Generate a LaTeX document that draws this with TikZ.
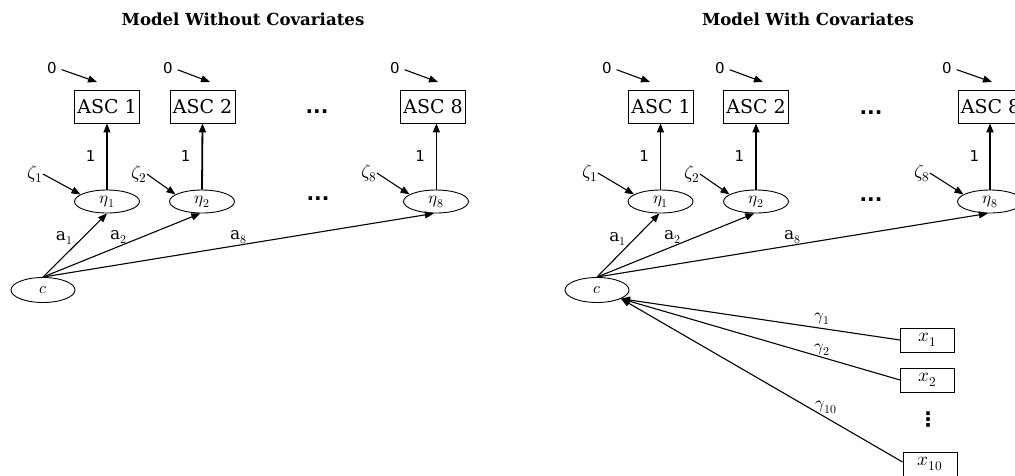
\documentclass[tikz,border=0pt]{standalone}
\usepackage{unicode-math}
\setmainfont{DejaVu Serif}
\setmathfont{Latin Modern Math}
\newfontfamily\labfont{DejaVu Sans}
\usetikzlibrary{arrows.meta,shapes.geometric}
\begin{document}
\begin{tikzpicture}[x=1pt,y=-1pt,
  every node/.style={inner sep=0pt},
  ascbox/.style={draw,line width=0.9pt,minimum width=65pt,minimum height=33pt,font=\fontsize{19}{21}\selectfont},
  latent/.style={draw,ellipse,line width=0.9pt,minimum width=65pt,minimum height=23pt,font=\fontsize{17}{19}\selectfont},
  cnode/.style={draw,ellipse,line width=0.9pt,minimum width=64pt,minimum height=25pt,font=\fontsize{16}{18}\selectfont},
  xbox/.style={draw,line width=0.9pt,minimum width=54pt,minimum height=24pt,font=\fontsize{19}{21}\selectfont},
  num/.style={font=\labfont\fontsize{15}{17}\selectfont},
  glab/.style={font=\fontsize{19}{21}\selectfont},
  elab/.style={font=\fontsize{17}{19}\selectfont},
  arr/.style={-{Triangle[length=9pt,width=7pt]},line width=1.1pt},
  thickarr/.style={arr,line width=1.8pt},
  ttl/.style={font=\bfseries\fontsize{16.6}{19}\selectfont},
  hdots/.style={font=\labfont\bfseries\fontsize{20}{22}\selectfont},
  vdotsnode/.style={font=\labfont\bfseries\fontsize{20}{22}\selectfont}
]
\useasboundingbox (0,0) rectangle (1015,475);

% ---------------- Left panel ----------------
\node[ttl] (ttlL) at (243,19) {Model Without Covariates};

\node[ascbox] (Lasc1) at (107,106.5) {ASC 1};
\node[ascbox] (Lasc2) at (202.5,106.5) {ASC 2};
\node[ascbox] (Lasc8) at (433,106.5) {ASC 8};
\node[hdots] (Ldots1) at (317,112) {...};

\node[num] (Lz1) at (52,68) {0};
\node[num] (Lz2) at (168,68) {0};
\node[num] (Lz8) at (395,68) {0};
\coordinate (Lt1) at (97,82);
\coordinate (Lt2) at (210,82);
\coordinate (Lt8) at (438,82);
\draw[arr,shorten <=5pt] (Lz1.east) -- (Lt1);
\draw[arr,shorten <=5pt] (Lz2.east) -- (Lt2);
\draw[arr,shorten <=5pt] (Lz8.east) -- (Lt8);

\node[latent] (Leta1) at (107,201.5) {$\eta_1$};
\node[latent] (Leta2) at (202,201.5) {$\eta_2$};
\node[latent] (Leta8) at (436,201.5) {$\eta_8$};
\node[hdots] (Ldots2) at (318,199) {...};

\draw[arr] (Leta1.north) -- node[pos=0.5,left=11pt,num]{1} (Lasc1.south);
\draw[thickarr] (Leta2.north) -- node[pos=0.5,left=11pt,num]{1} (Lasc2.south);
\draw[arr] (Leta8.88) -- node[pos=0.5,left=11pt,num]{1} (Lasc8.south -| Leta8.88);

\node[glab] (Lzeta1) at (35,174) {$\zeta_1$};
\node[glab] (Lzeta2) at (139,174) {$\zeta_2$};
\node[glab] (Lzeta8) at (369,173) {$\zeta_8$};
\draw[arr] (Lzeta1.east) -- (Leta1.165);
\draw[arr] (Lzeta2.east) -- (Leta2.165);
\draw[arr] (Lzeta8.east) -- (Leta8.165);

\node[cnode] (Lc) at (43,290) {$c$};
\draw[arr] (Lc.north) -- node[pos=0.61,left=9pt,elab]{$\mathrm{a}_1$} (Leta1.south);
\draw[arr] (Lc.north) -- node[pos=0.48,above=2pt,elab]{$\mathrm{a}_2$} (Leta2.-98);
\draw[arr] (Lc.north) -- node[pos=0.5,above=1pt,elab]{$\mathrm{a}_8$} (Leta8.-100);

% ---------------- Right panel ----------------
\node[ttl] (ttlR) at (808,19) {Model With Covariates};

\node[ascbox] (Rasc1) at (661,106.5) {ASC 1};
\node[ascbox] (Rasc2) at (756,106.5) {ASC 2};
\node[ascbox] (Rasc8) at (990.5,106.5) {ASC 8};
\node[hdots] (Rdots1) at (871,113) {...};

\node[num] (Rz1) at (607,68) {0};
\node[num] (Rz2) at (720,68) {0};
\node[num] (Rz8) at (947,68) {0};
\coordinate (Rt1) at (650,82);
\coordinate (Rt2) at (763,82);
\coordinate (Rt8) at (992,82);
\draw[arr,shorten <=5pt] (Rz1.east) -- (Rt1);
\draw[arr,shorten <=5pt] (Rz2.east) -- (Rt2);
\draw[arr,shorten <=5pt] (Rz8.east) -- (Rt8);

\node[latent] (Reta1) at (660.5,201.5) {$\eta_1$};
\node[latent] (Reta2) at (756,201.5) {$\eta_2$};
\node[latent] (Reta8) at (990,201.5) {$\eta_8$};
\node[hdots] (Rdots2) at (871,200) {...};

\draw[arr] (Reta1.north) -- node[pos=0.5,left=11pt,num]{1} (Rasc1.south -| Reta1.north);
\draw[thickarr] (Reta2.north) -- node[pos=0.5,left=11pt,num]{1} (Rasc2.south);
\draw[thickarr] (Reta8.north) -- node[pos=0.5,left=10pt,num]{1} (Rasc8.south -| Reta8.north);

\node[glab] (Rzeta1) at (590,173) {$\zeta_1$};
\node[glab] (Rzeta2) at (692,174) {$\zeta_2$};
\node[glab] (Rzeta8) at (922,173) {$\zeta_8$};
\draw[arr] (Rzeta1.east) -- (Reta1.165);
\draw[arr] (Rzeta2.east) -- (Reta2.165);
\draw[arr] (Rzeta8.east) -- (Reta8.165);

\node[cnode] (Rc) at (597,290) {$c$};
\draw[arr] (Rc.north) -- node[pos=0.6,left=8pt,elab]{$\mathrm{a}_1$} (Reta1.-95);
\draw[arr] (Rc.north) -- node[pos=0.48,above=2pt,elab]{$\mathrm{a}_2$} (Reta2.-98);
\draw[arr] (Rc.north) -- node[pos=0.5,above=1pt,elab]{$\mathrm{a}_8$} (Reta8.-100);

\node[xbox] (x1) at (927.5,340) {$x_1$};
\node[xbox] (x2) at (927.5,380) {$x_2$};
\node[xbox] (x10) at (930,464) {$x_{10}$};
\node[vdotsnode] (vd) at (928,420) {⋮};

\draw[arr] (x1.west) -- node[pos=0.28,above=3pt,elab]{$\gamma_1$} (Rc.-20);
\draw[arr] (x2.west) -- node[pos=0.28,above=1pt,elab]{$\gamma_2$} (Rc.-20);
\draw[arr] ([yshift=2pt]x10.west) -- node[pos=0.27,above=4pt,elab]{$\gamma_{10}$} (Rc.-20);
\end{tikzpicture}
\end{document}
